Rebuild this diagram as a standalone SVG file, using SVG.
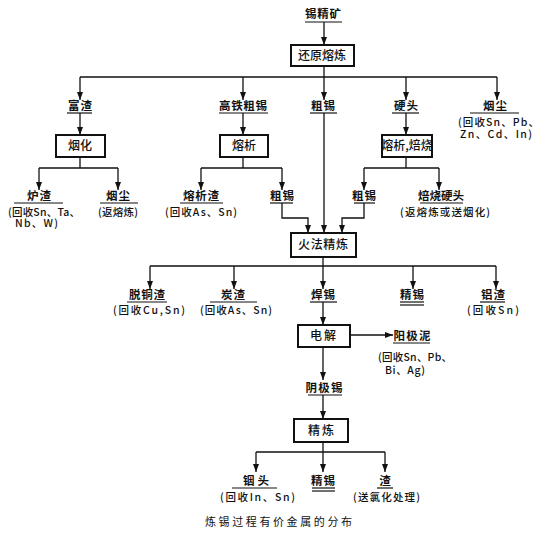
<svg xmlns="http://www.w3.org/2000/svg" width="544" height="537" viewBox="0 0 544 537">
<defs>
<marker id="ah" markerWidth="8" markerHeight="6" refX="8" refY="3" orient="auto" markerUnits="userSpaceOnUse">
<path d="M0,0 L8,3 L0,6 z" fill="#111"/>
</marker>
<style>
.ln{stroke:#111;stroke-width:1.3;fill:none}
.ar{stroke:#111;stroke-width:1.3;fill:none;marker-end:url(#ah)}
.ul{stroke:#111;stroke-width:1.2}
.bx{fill:#fff;stroke:#111;stroke-width:2}
.lb{font-family:"Noto Sans CJK SC","Liberation Sans",sans-serif;font-size:11.5px;font-weight:700;fill:#111;text-anchor:middle}
.bt{font-family:"Noto Sans CJK SC","Liberation Sans",sans-serif;font-size:12px;font-weight:500;fill:#111;text-anchor:middle}
.pt{font-family:"Noto Sans CJK SC","Liberation Sans",sans-serif;font-size:10.5px;font-weight:500;fill:#111}
.cap{font-family:"Noto Sans CJK SC","Liberation Sans",sans-serif;font-size:11px;fill:#111}
</style>
</defs>
<rect width="544" height="537" fill="#fff"/>

<g id="connectors">
<line class="ar" x1="324" y1="22" x2="324" y2="45"/>
<line class="ln" x1="324" y1="66" x2="324" y2="77"/>
<line class="ln" x1="80" y1="77" x2="497" y2="77"/>
<line class="ar" x1="80" y1="77" x2="80" y2="100"/>
<line class="ar" x1="243" y1="77" x2="243" y2="100"/>
<line class="ar" x1="324" y1="77" x2="324" y2="100"/>
<line class="ar" x1="406" y1="77" x2="406" y2="100"/>
<line class="ar" x1="497" y1="77" x2="497" y2="100"/>
<line class="ar" x1="80" y1="113" x2="80" y2="135"/>
<line class="ar" x1="243" y1="113" x2="243" y2="135"/>
<line class="ar" x1="406" y1="113" x2="406" y2="135"/>
<line class="ar" x1="324" y1="113" x2="324" y2="233"/>
<line class="ln" x1="80" y1="157" x2="80" y2="168"/>
<line class="ln" x1="243" y1="157" x2="243" y2="168"/>
<line class="ln" x1="406" y1="157" x2="406" y2="168"/>
<line class="ln" x1="39" y1="168" x2="118" y2="168"/>
<line class="ln" x1="201" y1="168" x2="282" y2="168"/>
<line class="ln" x1="364" y1="168" x2="439" y2="168"/>
<line class="ar" x1="39" y1="168" x2="39" y2="190"/>
<line class="ar" x1="118" y1="168" x2="118" y2="190"/>
<line class="ar" x1="201" y1="168" x2="201" y2="190"/>
<line class="ar" x1="282" y1="168" x2="282" y2="190"/>
<line class="ar" x1="364" y1="168" x2="364" y2="190"/>
<line class="ar" x1="439" y1="168" x2="439" y2="190"/>
<polyline class="ar" points="282,203 282,218 308,218 308,233"/>
<polyline class="ar" points="364,203 364,218 342,218 342,233"/>
<line class="ln" x1="323" y1="257" x2="323" y2="266"/>
<line class="ln" x1="150" y1="266" x2="496" y2="266"/>
<line class="ar" x1="150" y1="266" x2="150" y2="289"/>
<line class="ar" x1="234" y1="266" x2="234" y2="289"/>
<line class="ar" x1="323" y1="266" x2="323" y2="289"/>
<line class="ar" x1="413" y1="266" x2="413" y2="289"/>
<line class="ar" x1="496" y1="266" x2="496" y2="289"/>
<line class="ar" x1="323" y1="302" x2="323" y2="325"/>
<line class="ar" x1="350" y1="335" x2="393" y2="335"/>
<line class="ar" x1="323" y1="347" x2="323" y2="380"/>
<line class="ar" x1="323" y1="395" x2="323" y2="419"/>
<line class="ln" x1="323" y1="442" x2="323" y2="452"/>
<line class="ln" x1="256" y1="452" x2="385" y2="452"/>
<line class="ar" x1="256" y1="452" x2="256" y2="472"/>
<line class="ar" x1="323" y1="452" x2="323" y2="472"/>
<line class="ar" x1="385" y1="452" x2="385" y2="472"/>
</g>

<g id="n-xijingkuang"><text class="lb" x="323" y="17.5" textLength="36">锡精矿</text><line class="ul" x1="305" y1="22" x2="342" y2="22"/></g>
<g id="n-huanyuan"><rect class="bx" x="291" y="45" width="63" height="21"/><text class="bt" x="322" y="60" textLength="48">还原熔炼</text></g>

<g id="n-fuzha"><text class="lb" x="80" y="110" textLength="24">富渣</text><line class="ul" x1="67" y1="113" x2="92" y2="113"/></g>
<g id="n-gaotie"><text class="lb" x="243" y="110" textLength="48">高铁粗锡</text><line class="ul" x1="219" y1="113" x2="268" y2="113"/></g>
<g id="n-cuxi1"><rect x="311" y="100" width="26" height="12" fill="#fff"/><text class="lb" x="323" y="110" textLength="24">粗锡</text><line class="ul" x1="310" y1="113" x2="337" y2="113"/></g>
<g id="n-yingtou"><text class="lb" x="406" y="110" textLength="24">硬头</text><line class="ul" x1="392" y1="113" x2="419" y2="113"/></g>
<g id="n-yanchen1"><text class="lb" x="495" y="110" textLength="24">烟尘</text><line class="ul" x1="470" y1="113" x2="519" y2="113"/>
<text class="pt" x="458" y="126" textLength="81">(回收Sn、Pb、</text>
<text class="pt" x="460" y="138" textLength="72">Zn、Cd、In)</text></g>

<g id="n-yanhua"><rect class="bx" x="56" y="135" width="49" height="22"/><text class="bt" x="80" y="150" textLength="24">烟化</text></g>
<g id="n-rongxi"><rect class="bx" x="220" y="135" width="48" height="22"/><text class="bt" x="244" y="150" textLength="24">熔析</text></g>
<g id="n-rongxibeishao"><rect class="bx" x="382" y="135" width="50" height="22"/><text class="bt" x="407" y="150" font-size="10.5">熔析,焙烧</text></g>

<g id="n-luzha"><text class="lb" x="39" y="200" textLength="24">炉渣</text><line class="ul" x1="14" y1="203" x2="63" y2="203"/>
<text class="pt" x="8" y="216" textLength="72">(回收Sn、Ta、</text>
<text class="pt" x="15" y="227" textLength="43">Nb、W)</text></g>
<g id="n-yanchen2"><text class="lb" x="118" y="200" textLength="24">烟尘</text><line class="ul" x1="100" y1="203" x2="138" y2="203"/>
<text class="pt" x="98" y="216" textLength="40">(返熔炼)</text></g>
<g id="n-rongxizha"><text class="lb" x="201" y="200" textLength="36">熔析渣</text><line class="ul" x1="180" y1="203" x2="223" y2="203"/>
<text class="pt" x="165" y="216" textLength="72">(回收As、Sn)</text></g>
<g id="n-cuxi2"><text class="lb" x="282" y="200" textLength="24">粗锡</text><line class="ul" x1="270" y1="203" x2="293" y2="203"/></g>
<g id="n-cuxi3"><text class="lb" x="364" y="200" textLength="24">粗锡</text><line class="ul" x1="354" y1="203" x2="375" y2="203"/></g>
<g id="n-beishaoyingtou"><text class="lb" x="441" y="200" textLength="46">焙烧硬头</text><line class="ul" x1="420" y1="203" x2="463" y2="203"/>
<text class="pt" x="400" y="216" textLength="90">(返熔炼或送烟化)</text></g>

<g id="n-huofa"><rect class="bx" x="291" y="233" width="65" height="24"/><text class="bt" x="323" y="249" textLength="50">火法精炼</text></g>

<g id="n-tuotongzha"><text class="lb" x="147" y="299" textLength="36">脱铜渣</text><line class="ul" x1="127" y1="302" x2="167" y2="302"/>
<text class="pt" x="113" y="314" textLength="72">(回收Cu,Sn)</text></g>
<g id="n-tanzha"><text class="lb" x="233" y="299" textLength="24">炭渣</text><line class="ul" x1="210" y1="302" x2="257" y2="302"/>
<text class="pt" x="200" y="314" textLength="72">(回收As、Sn)</text></g>
<g id="n-hanxi"><text class="lb" x="323" y="299" textLength="24">焊锡</text><line class="ul" x1="310" y1="302" x2="337" y2="302"/></g>
<g id="n-jingxi1"><text class="lb" x="412" y="299" textLength="24">精锡</text><line class="ul" x1="400" y1="302" x2="424" y2="302"/><line class="ul" x1="400" y1="305" x2="424" y2="305"/></g>
<g id="n-lvzha"><text class="lb" x="493" y="299" textLength="24">铝渣</text><line class="ul" x1="480" y1="302" x2="505" y2="302"/>
<text class="pt" x="467" y="314" textLength="52">(回收Sn)</text></g>

<g id="n-dianjie"><rect class="bx" x="298" y="325" width="52" height="22"/><text class="bt" x="323" y="340" textLength="26">电解</text></g>
<g id="n-yangjini"><text class="lb" x="412" y="339.5" textLength="37">阳极泥</text><line class="ul" x1="393" y1="343" x2="430" y2="343"/>
<text class="pt" x="378" y="361" textLength="74">(回收Sn、Pb、</text>
<text class="pt" x="385" y="374" textLength="40">Bi、Ag)</text></g>
<g id="n-yinjixi"><text class="lb" x="324" y="391.5" textLength="37">阴极锡</text><line class="ul" x1="308" y1="395" x2="342" y2="395"/></g>
<g id="n-jinglian"><rect class="bx" x="294" y="419" width="54" height="23"/><text class="bt" x="321" y="435" textLength="26">精炼</text></g>

<g id="n-yintou"><text class="lb" x="256" y="485" textLength="26">铟头</text><line class="ul" x1="232" y1="488" x2="277" y2="488"/>
<text class="pt" x="220" y="501" textLength="75">(回收In、Sn)</text></g>
<g id="n-jingxi2"><text class="lb" x="323" y="485" textLength="24">精锡</text><line class="ul" x1="312" y1="488" x2="335" y2="488"/><line class="ul" x1="312" y1="491" x2="335" y2="491"/></g>
<g id="n-zha"><text class="lb" x="385" y="485" textLength="12">渣</text><line class="ul" x1="377" y1="488" x2="393" y2="488"/>
<text class="pt" x="353" y="501" textLength="67">(送氯化处理)</text></g>

<text class="cap" x="205" y="526" textLength="147">炼锡过程有价金属的分布</text>
</svg>
